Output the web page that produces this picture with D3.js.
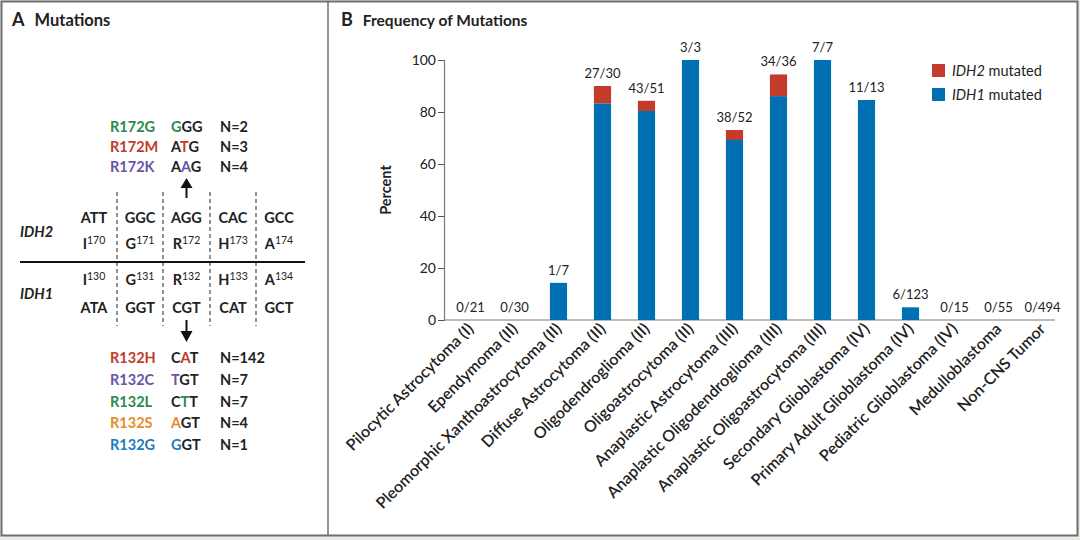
<!DOCTYPE html>
<html>
<head>
  <meta charset="utf-8">
  <title>IDH1 / IDH2 Mutations</title>
  <script src="https://d3js.org/d3.v7.min.js"></script>
  <style>
    body { margin: 0; background: #fff; font-family: Lato, "Open Sans", sans-serif; }
    svg { display: block; }
    text { fill: #222; }
  </style>
</head>
<body>
<div id="chart"></div>

<script>
// ---- data (panel B) ----
const tumors = [
  "Pilocytic Astrocytoma (I)", "Ependymoma (II)", "Pleomorphic Xanthoastrocytoma (II)",
  "Diffuse Astrocytoma (II)", "Oligodendroglioma (II)", "Oligoastrocytoma (II)",
  "Anaplastic Astrocytoma (III)", "Anaplastic Oligodendroglioma (III)",
  "Anaplastic Oligoastrocytoma (III)", "Secondary Glioblastoma (IV)",
  "Primary Adult Glioblastoma (IV)", "Pediatric Glioblastoma (IV)",
  "Medulloblastoma", "Non-CNS Tumor"
];
const idh1Count = [0, 0, 1, 25, 41, 3, 36, 31, 7, 11, 6, 0, 0, 0];
const idh2Count = [0, 0, 0, 2, 2, 0, 2, 3, 0, 0, 0, 0, 0, 0];
const totalCount = [21, 30, 7, 30, 51, 3, 52, 36, 7, 13, 123, 15, 55, 494];
const yTicks = [0, 20, 40, 60, 80, 100];

// ---- data (panel A) ----
const codonsIDH2 = ["ATT", "GGC", "AGG", "CAC", "GCC"];
const residuesIDH2 = [["I", "170"], ["G", "171"], ["R", "172"], ["H", "173"], ["A", "174"]];
const residuesIDH1 = [["I", "130"], ["G", "131"], ["R", "132"], ["H", "133"], ["A", "134"]];
const codonsIDH1 = ["ATA", "GGT", "CGT", "CAT", "GCT"];
// name, codon, index of changed base, count, colour
const mutIDH2 = [
  ["R172G", "GGG", 0, "N=2", "#2a8a4f"],
  ["R172M", "ATG", 1, "N=3", "#c23b2b"],
  ["R172K", "AAG", 1, "N=4", "#6a55a8"]
];
const mutIDH1 = [
  ["R132H", "CAT", 1, "N=142", "#c23b2b"],
  ["R132C", "TGT", 0, "N=7", "#6a55a8"],
  ["R132L", "CTT", 1, "N=7", "#2a8a4f"],
  ["R132S", "AGT", 0, "N=4", "#e58c2c"],
  ["R132G", "GGT", 0, "N=1", "#1c7bbf"]
];

const W = 1080, H = 540;
const blue = "#0070b3", red = "#c23b2b";

const svg = d3.select("#chart").append("svg")
  .attr("width", W).attr("height", H);

// frame
svg.append("rect").attr("x", 0).attr("y", 0).attr("width", W).attr("height", H).attr("fill", "#ecebe8");
svg.append("rect").attr("x", 1.5).attr("y", 1.5).attr("width", 1076).attr("height", 534)
  .attr("fill", "#fff").attr("stroke", "#6f6f6f").attr("stroke-width", 2);
svg.append("line").attr("x1", 328).attr("x2", 328).attr("y1", 1).attr("y2", 536)
  .attr("stroke", "#6f6f6f").attr("stroke-width", 1.5);

// panel titles
function panelTitle(x, letter, label, size) {
  const t = svg.append("text").attr("x", x).attr("y", 26).style("font-size", size + "px");
  t.append("tspan").text(letter).style("font-weight", "bold").style("font-size", "18px");
  t.append("tspan").attr("dx", 10).text(label).style("font-weight", "bold");
}
panelTitle(12, "A", "Mutations", 16.5);
panelTitle(341, "B", "Frequency of Mutations", 15.5);

// ---------------- Panel A ----------------
const gA = svg.append("g").style("font-size", "14.5px");
const colX = [94, 140, 186.5, 233, 279];
const divX = [117, 163, 210, 256];

divX.forEach(x => {
  gA.append("line").attr("x1", x).attr("x2", x).attr("y1", 192).attr("y2", 326)
    .attr("stroke", "#222").attr("stroke-width", 1).attr("stroke-dasharray", "4,3");
});
gA.append("line").attr("x1", 20).attr("x2", 305).attr("y1", 262).attr("y2", 262)
  .attr("stroke", "#111").attr("stroke-width", 2);

function codonRow(codons, y) {
  gA.selectAll(null).data(codons).join("text")
    .attr("x", (d, i) => colX[i]).attr("y", y)
    .attr("text-anchor", "middle").style("font-weight", "bold").text(d => d);
}
function residueRow(res, y) {
  res.forEach((r, i) => {
    const t = gA.append("text").attr("x", colX[i]).attr("y", y).attr("text-anchor", "middle");
    t.append("tspan").text(r[0]).style("font-weight", "bold");
    t.append("tspan").text(r[1]).attr("dy", -5).style("font-size", "10.5px");
  });
}
codonRow(codonsIDH2, 223);
residueRow(residuesIDH2, 249);
residueRow(residuesIDH1, 285);
codonRow(codonsIDH1, 313);

gA.append("text").attr("x", 20).attr("y", 237).style("font-style", "italic").style("font-weight", "bold").text("IDH2");
gA.append("text").attr("x", 20).attr("y", 299).style("font-style", "italic").style("font-weight", "bold").text("IDH1");

// arrows
gA.append("line").attr("x1", 186.5).attr("x2", 186.5).attr("y1", 198).attr("y2", 186).attr("stroke", "#111").attr("stroke-width", 2);
gA.append("path").attr("d", "M180.5,188 L186.5,178 L192.5,188 Z").attr("fill", "#111");
gA.append("line").attr("x1", 186.5).attr("x2", 186.5).attr("y1", 320).attr("y2", 333).attr("stroke", "#111").attr("stroke-width", 2);
gA.append("path").attr("d", "M180.5,331 L186.5,342 L192.5,331 Z").attr("fill", "#111");

function mutRows(rows, y0, dy) {
  rows.forEach((m, i) => {
    const y = y0 + i * dy;
    gA.append("text").attr("x", 110).attr("y", y).style("fill", m[4]).style("font-weight", "bold").text(m[0]);
    const c = gA.append("text").attr("x", 171).attr("y", y).style("font-weight", "bold");
    m[1].split("").forEach((b, j) => {
      c.append("tspan").text(b).style("fill", j === m[2] ? m[4] : "#222");
    });
    gA.append("text").attr("x", 220).attr("y", y).style("font-weight", "bold").text(m[3]);
  });
}
mutRows(mutIDH2, 132, 20);
mutRows(mutIDH1, 363, 21.8);

// ---------------- Panel B ----------------
const x = d3.scaleBand().domain(tumors).range([448.5, 1064.5]).paddingInner(0.61).paddingOuter(0.305);
const y = d3.scaleLinear().domain([0, 100]).range([320, 60]);

const pct1 = idh1Count.map((v, i) => 100 * v / totalCount[i]);
const pct2 = idh2Count.map((v, i) => 100 * v / totalCount[i]);

const gB = svg.append("g");

// y axis
const yAxis = gB.append("g").attr("transform", "translate(444,0)")
  .call(d3.axisLeft(y).tickValues(yTicks).tickSize(6).tickPadding(2));
yAxis.select(".domain").attr("stroke", "#777").attr("stroke-width", 1.2);
yAxis.selectAll(".tick line").attr("stroke", "#555");
yAxis.selectAll(".tick text").style("font-size", "14px").style("font-family", "Lato, sans-serif").attr("fill", "#333");

// x axis line
gB.append("line").attr("x1", 444).attr("x2", 1055).attr("y1", y(0)).attr("y2", y(0))
  .attr("stroke", "#777").attr("stroke-width", 1.2);

// bars
gB.selectAll(".b1").data(tumors).join("rect").attr("class", "b1")
  .attr("x", d => x(d)).attr("width", x.bandwidth())
  .attr("y", (d, i) => y(pct1[i])).attr("height", (d, i) => y(0) - y(pct1[i]))
  .attr("fill", blue);
gB.selectAll(".b2").data(tumors).join("rect").attr("class", "b2")
  .attr("x", d => x(d)).attr("width", x.bandwidth())
  .attr("y", (d, i) => y(pct1[i] + pct2[i])).attr("height", (d, i) => y(pct1[i]) - y(pct1[i] + pct2[i]))
  .attr("fill", red);

// count labels
gB.selectAll(".lab").data(tumors).join("text").attr("class", "lab")
  .attr("x", d => x(d) + x.bandwidth() / 2)
  .attr("y", (d, i) => y(pct1[i] + pct2[i]) - 8)
  .attr("text-anchor", "middle").style("font-size", "13px").attr("fill", "#333")
  .text((d, i) => (idh1Count[i] + idh2Count[i]) + "/" + totalCount[i]);

// x labels
gB.selectAll(".xl").data(tumors).join("text").attr("class", "xl")
  .attr("transform", d => `translate(${x(d) + x.bandwidth() / 2 + 4},${y(0) + 10}) rotate(-45)`)
  .attr("text-anchor", "end").style("font-size", "16px").style("font-weight", "600")
  .text(d => d);

// y title
gB.append("text").attr("transform", "translate(391,190) rotate(-90)")
  .attr("text-anchor", "middle").style("font-size", "14.5px").style("font-weight", "bold").text("Percent");

// legend
const legend = [["IDH2", red], ["IDH1", blue]];
legend.forEach((l, i) => {
  const ly = 64 + i * 24;
  gB.append("rect").attr("x", 932).attr("y", ly).attr("width", 13).attr("height", 13).attr("fill", l[1]);
  const t = gB.append("text").attr("x", 952).attr("y", ly + 11.5).style("font-size", "14.5px");
  t.append("tspan").text(l[0]).style("font-style", "italic");
  t.append("tspan").text(" mutated");
});
</script>
</body>
</html>
